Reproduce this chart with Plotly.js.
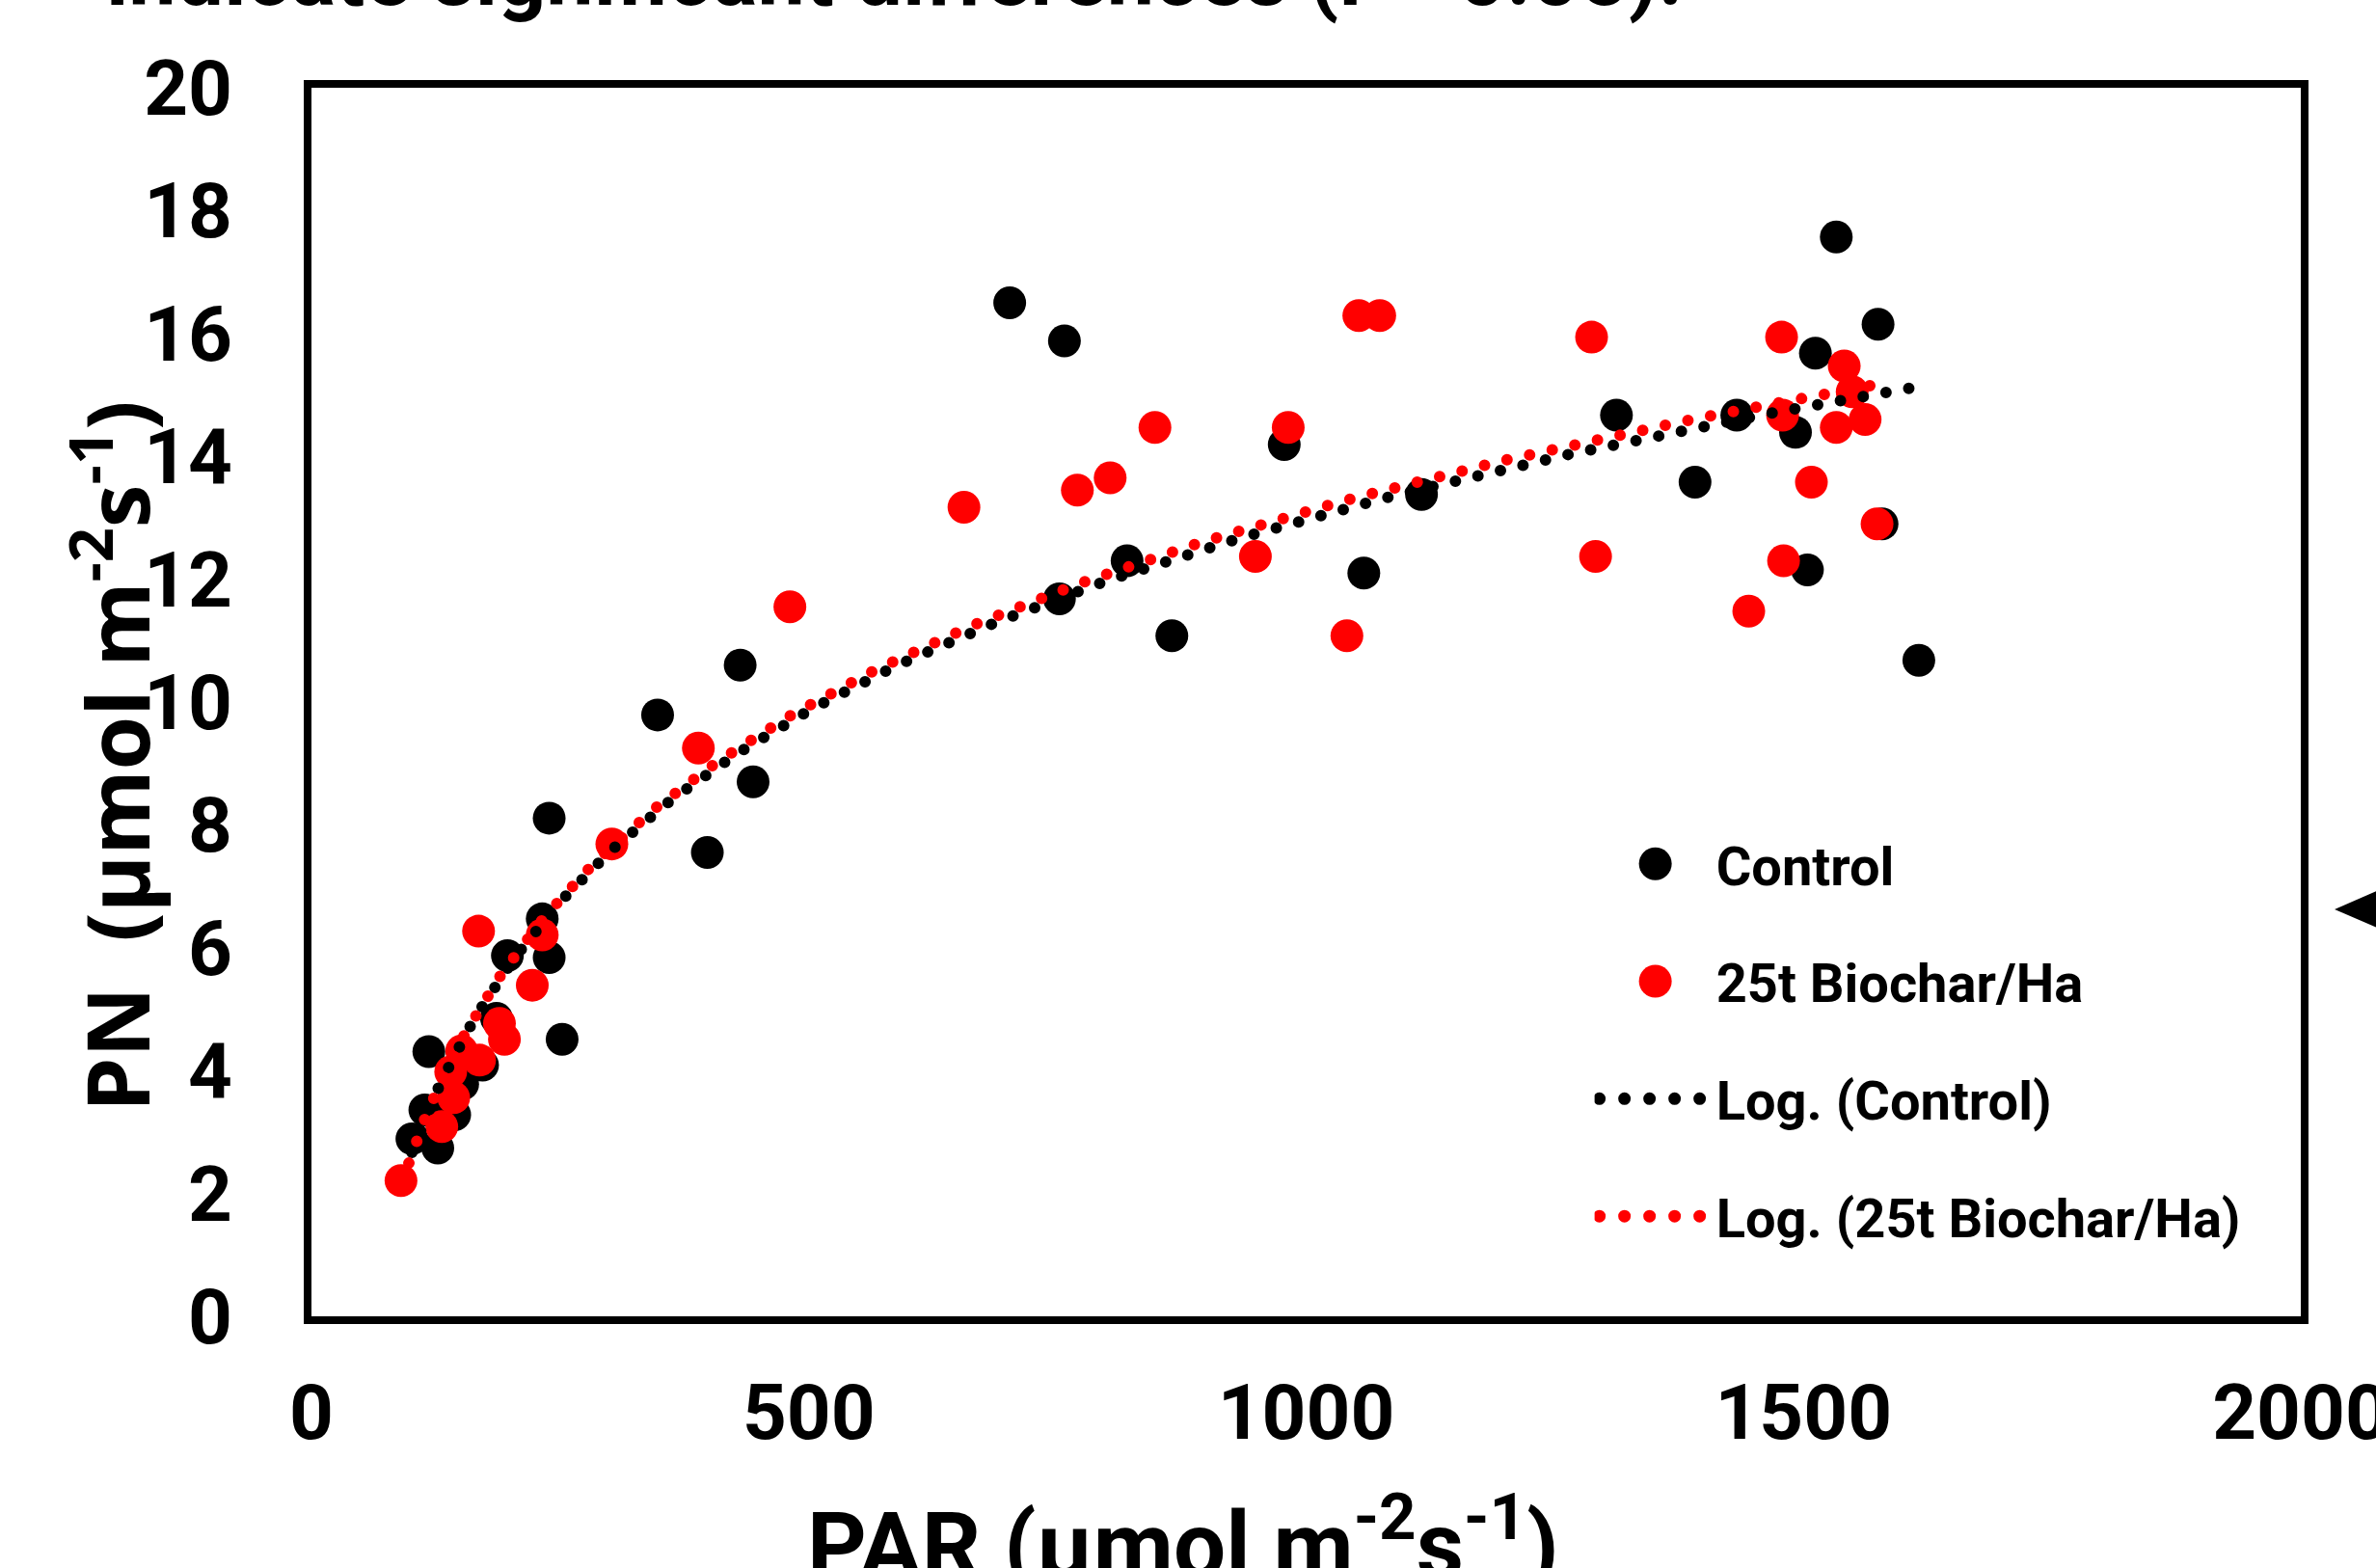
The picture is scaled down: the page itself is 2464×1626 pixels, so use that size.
<!DOCTYPE html>
<html><head><meta charset="utf-8">
<script src="https://cdn.plot.ly/plotly-3.0.1.min.js"></script>
<style>
html,body{margin:0;padding:0;background:#fff;}
#chart{width:2464px;height:1626px;}
.scatterlayer .js-line, .legendlines path {stroke-linecap:round;}
</style></head><body><div id="chart"></div>
<script>
// ---- data ----
const controlName = 'Control';
const biocharName = '25t Biochar/Ha';
const controlPAR = [101,114,118,127,144,152,172,186,197,232,239,239,252,348,398,431,444,702,752,757,820,865,978,1058,1116,1312,1391,1433,1492,1504,1512,1533,1575,1579,1616];
const controlPN  = [2.89,3.36,4.31,2.74,3.28,3.78,4.09,4.85,5.87,6.47,5.84,8.11,4.51,9.79,7.55,10.60,8.70,16.50,11.68,15.88,12.30,11.08,14.19,12.10,13.38,14.67,13.58,14.67,14.39,12.15,15.68,17.57,16.15,12.90,10.68];
const biocharPAR = [90,131,140,143,151,168,169,189,194,222,232,302,389,481,656,770,803,848,949,982,1041,1053,1074,1287,1291,1445,1478,1479,1480,1508,1533,1541,1549,1562,1574];
const biocharPN  = [2.21,3.09,3.98,3.56,4.32,6.27,4.17,4.77,4.51,5.39,6.21,7.69,9.25,11.55,13.17,13.45,13.65,14.47,12.37,14.47,11.08,16.29,16.29,15.94,12.37,11.48,15.94,14.67,12.30,13.58,14.47,15.47,15.05,14.60,12.90];
const xTickVals = [0,500,1000,1500,2000];
const yTickVals = [0,2,4,6,8,10,12,14,16,18,20];

// ---- logarithmic trendline (least squares on ln x), as Excel's "Log." ----
function logFit(xs, ys){
  const n = xs.length; let sl=0, sy=0, sll=0, sly=0;
  for(let i=0;i<n;i++){const l=Math.log(xs[i]); sl+=l; sy+=ys[i]; sll+=l*l; sly+=l*ys[i];}
  const a=(n*sly-sl*sy)/(n*sll-sl*sl); const b=(sy-a*sl)/n; return {a,b};
}
function trend(xs, ys){
  const f=logFit(xs,ys); const lo=Math.min(...xs), hi=Math.max(...xs);
  const tx=[], ty=[]; const N=300;
  for(let i=0;i<=N;i++){const x=lo+(hi-lo)*i/N; tx.push(x); ty.push(f.a*Math.log(x)+f.b);}
  return {tx,ty};
}
const tc = trend(controlPAR, controlPN);
const tb = trend(biocharPAR, biocharPN);

const W=2464, H=1626;
const L=323, R=78, T=91, B=261;
const tickFont = {family:'Roboto, Liberation Sans, sans-serif', size:80, color:'#000', weight:700};

const traces = [
  {x:controlPAR, y:controlPN, name:controlName, type:'scatter', mode:'markers', legendgroup:'a',
   marker:{color:'#000000', size:34, line:{width:0}}},
  {x:biocharPAR, y:biocharPN, name:biocharName, type:'scatter', mode:'markers', legendgroup:'b',
   marker:{color:'#ff0000', size:34, line:{width:0}}},
  {x:tc.tx, y:tc.ty, name:'Log. ('+controlName+')', type:'scatter', mode:'lines', legendgroup:'c',
   line:{color:'#000000', width:12, dash:'0px,24px'}},
  {x:tb.tx, y:tb.ty, name:'Log. ('+biocharName+')', type:'scatter', mode:'lines', legendgroup:'d',
   line:{color:'#ff0000', width:12, dash:'0px,24px'}}
];

const layout = {
  width:W, height:H, paper_bgcolor:'#fff', plot_bgcolor:'#fff',
  margin:{l:L, r:R, t:T, b:B, pad:0},
  showlegend:true,
  legend:{x:0.645, y:0.402, xanchor:'left', yanchor:'top', traceorder:'grouped', tracegroupgap:46,
          itemwidth:116, bgcolor:'rgba(0,0,0,0)', borderwidth:0,
          font:{family:'Roboto, Liberation Sans, sans-serif', size:56, color:'#000', weight:700}},
  xaxis:{range:[0,2000], tickvals:xTickVals, ticktext:xTickVals.map(String), showgrid:false, zeroline:false,
         showline:true, mirror:true, linecolor:'#000', linewidth:8, ticks:'', tickfont:tickFont,
         ticklabelstandoff:23, ticklabeloverflow:'allow'},
  yaxis:{range:[0,20], tickvals:yTickVals, ticktext:yTickVals.map(String), showgrid:false, zeroline:false,
         showline:true, mirror:true, linecolor:'#000', linewidth:8, ticks:'', tickfont:tickFont,
         ticklabelstandoff:58, ticklabeloverflow:'allow'},
  annotations:[
    {text:'PAR (µmol m<sup>-2</sup>s<sup>-1</sup>)', xref:'paper', yref:'paper', x:0.438, y:-0.1311,
     xanchor:'center', yanchor:'top', showarrow:false,
     font:{family:'Roboto, Liberation Sans, sans-serif', size:96, color:'#000', weight:700}},
    {text:'PN\u00a0\u00a0(µmol m<sup>-2</sup>s<sup>-1</sup>)', xref:'paper', yref:'paper', x:-0.1008, y:0.456,
     xanchor:'center', yanchor:'middle', textangle:-90, showarrow:false,
     font:{family:'Open Sans, Noto Sans, sans-serif', size:90, color:'#000', weight:700}},
    {text:'indicate significant differences (P <0.05).', xref:'paper', yref:'paper', x:-0.104, y:1.0495,
     xanchor:'left', yanchor:'bottom', showarrow:false,
     font:{family:'Roboto, Liberation Sans, sans-serif', size:88, color:'#000', weight:700}}
  ],
  shapes:[
    {type:'path', xref:'paper', yref:'paper', path:'M1.0170,0.3313 L1.045,0.3509 L1.045,0.3116 Z',
     fillcolor:'#000', line:{width:0}}
  ]
};

Plotly.newPlot('chart', traces, layout, {displayModeBar:false, staticPlot:true}).then(gd=>{
  const iw = 116;
  gd.querySelectorAll('.legend .traces').forEach(t=>{
    t.querySelectorAll('.legendpoints path.scatterpts').forEach(p=>{
      const r=17;
      p.setAttribute('d','M'+r+',0A'+r+','+r+' 0 1,1 0,-'+r+'A'+r+','+r+' 0 0,1 '+r+',0Z');
      p.setAttribute('transform','translate('+(5+iw/2)+',0)');
    });
    t.querySelectorAll('.legendlines path').forEach(p=>{ p.style.strokeWidth='13px'; p.style.strokeDasharray='0px,26px'; });
  });
});
</script></body></html>
